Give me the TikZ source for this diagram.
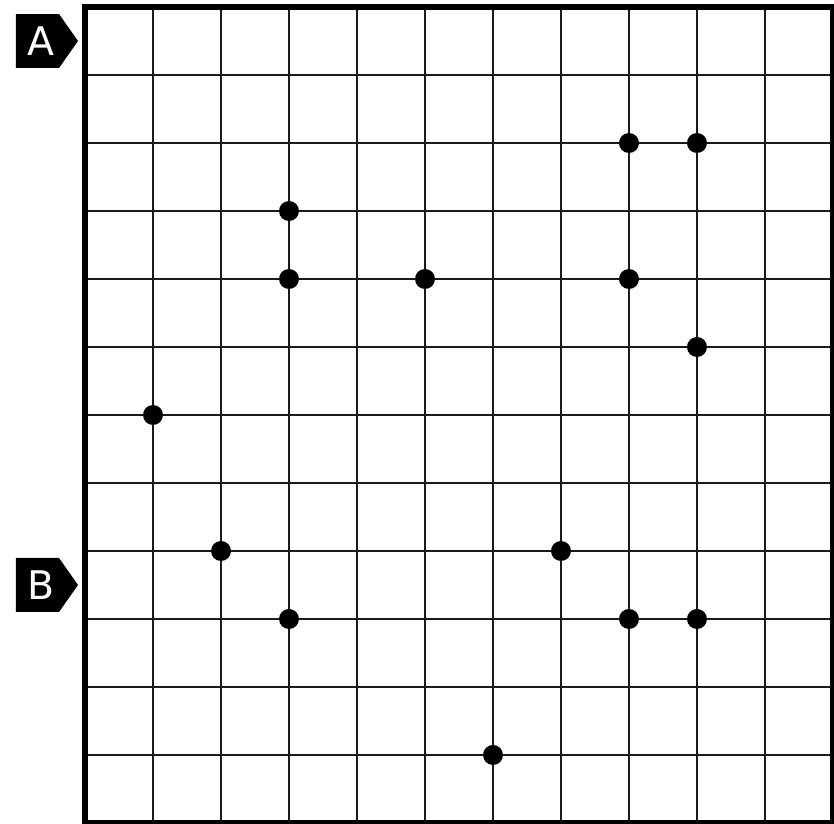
\documentclass[tikz,border=0pt]{standalone}
\usepackage{fontspec}
\setsansfont{DejaVu Sans}
\definecolor{inkblack}{HTML}{000000}
\definecolor{gridline}{HTML}{1A1A1A}

\begin{document}
\begin{tikzpicture}[
  x=1cm, y=-1cm,
  gridln/.style={gridline, line width=0.7pt},
  frame/.style={inkblack, line width=2.7pt},
  stone/.style={inkblack},
  tagshape/.style={fill=inkblack},
  tagtext/.style={text=white, inner sep=0pt,
    font=\sffamily\fontsize{16.5}{19}\selectfont},
]

% ══════════════════════════════════════════════════════
% Board size (cells)
% ══════════════════════════════════════════════════════
\pgfmathsetmacro{\ncol}{11}
\pgfmathsetmacro{\nrow}{12}

% ══════════════════════════════════════════════════════
% Background / bounds
% ══════════════════════════════════════════════════════
\fill[white] (-1.25,-0.103) rectangle (11.015,12.015);
\useasboundingbox (-1.25,-0.103) rectangle (11.015,12.015);

% ══════════════════════════════════════════════════════
% Grid lines
% ══════════════════════════════════════════════════════
\foreach \i in {1,...,10}{
  \draw[gridln] (\i,0) -- (\i,\nrow);
}
\foreach \j in {1,...,11}{
  \draw[gridln] (0,\j) -- (\ncol,\j);
}

% ══════════════════════════════════════════════════════
% Outer frame
% ══════════════════════════════════════════════════════
\draw[frame] (0,0) rectangle (\ncol,\nrow);

% ══════════════════════════════════════════════════════
% Stones
% ══════════════════════════════════════════════════════
\foreach \px/\py in {%
  8/2, 9/2,%
  3/3,%
  3/4, 5/4, 8/4,%
  9/5,%
  1/6,%
  2/8, 7/8,%
  3/9, 8/9, 9/9,%
  6/11%
}{
  \fill[stone] (\px,\py) circle (0.147);
}

% ══════════════════════════════════════════════════════
% Row markers (arrow tags left of the board)
% ══════════════════════════════════════════════════════
\foreach \nm/\rw in {A/0.5, B/8.5}{
  \fill[tagshape] (-1.015,\rw-0.397) -- (-0.382,\rw-0.397) -- (-0.103,\rw)
    -- (-0.382,\rw+0.397) -- (-1.015,\rw+0.397) -- cycle;
  \node[tagtext] (mark\nm) at (-0.64,\rw) {\nm};
}

\end{tikzpicture}
\end{document}
